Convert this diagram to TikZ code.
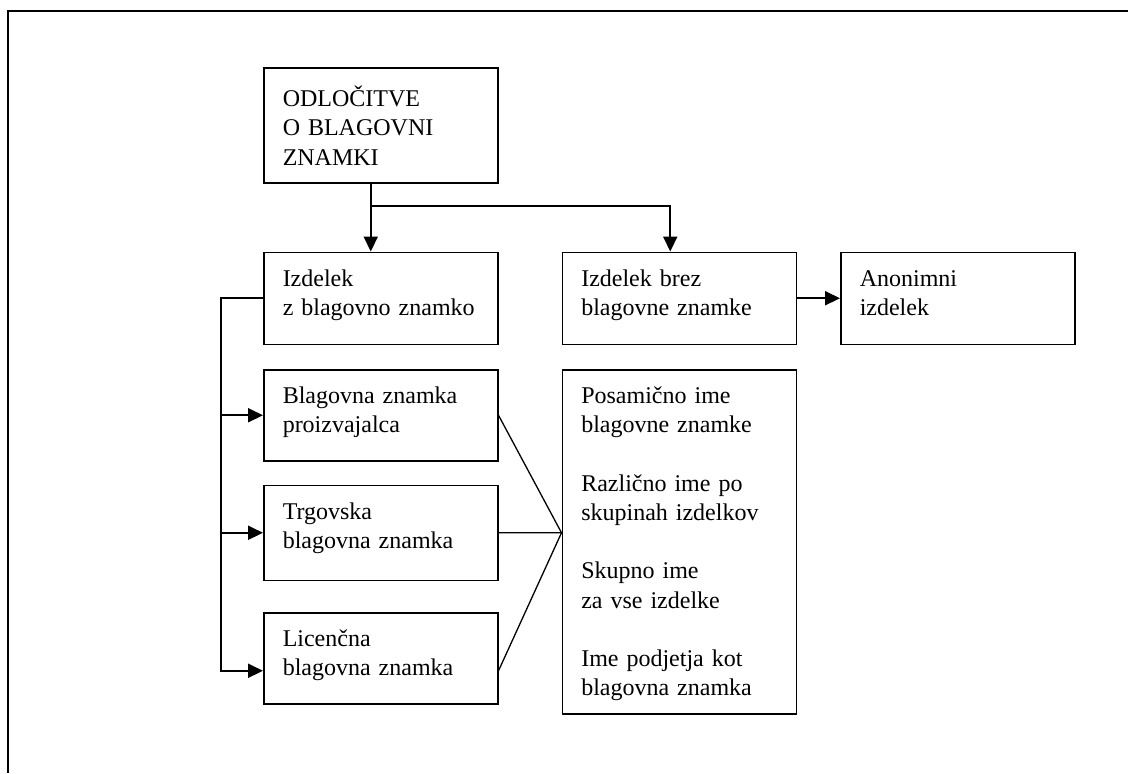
\documentclass[tikz,border=0pt]{standalone}
\usepackage{fontspec}
\setmainfont{Liberation Serif}
\usetikzlibrary{arrows.meta,positioning,calc}

\begin{document}
\begin{tikzpicture}[>={Triangle[length=7.5pt, width=7pt]}, node distance=12pt and 31.5pt]
\tikzset{
  bx/.style={draw, line width=0.75pt, inner xsep=9.5pt, inner ysep=0pt, text width=98pt, align=left, text height=17pt, text depth=29pt, font=\fontsize{12}{14.6}\selectfont},
  arr/.style={->, line width=1pt},
  fan/.style={line width=0.65pt}
}
\useasboundingbox (0,0) rectangle (564pt,-386.5pt);
\draw[line width=1.2pt] (4pt,-386.5pt) |- (564pt,-5.5pt);

\node[bx, anchor=north west, text height=19.5pt, text depth=38pt] (dec) at (131.5pt,-33.5pt) {ODLOČITVE\\O BLAGOVNI\\ZNAMKI};
\node[bx, below=34pt of dec] (branded) {Izdelek\\z blagovno znamko};
\node[bx, right=of branded] (nobrand) {Izdelek brez\\blagovne znamke};
\node[bx, right=21.5pt of nobrand] (anon) {Anonimni\\izdelek};
\node[bx, below=of branded, text depth=28.5pt] (proizv) {Blagovna znamka\\proizvajalca};
\node[bx, below=11.5pt of proizv, text depth=30.5pt] (trgov) {Trgovska\\blagovna znamka};
\node[bx, below=15.5pt of trgov, text depth=28.5pt] (licen) {Licenčna\\blagovna znamka};
\node[bx, right=of proizv.north east, anchor=north west, text depth=155pt] (names) {Posamično ime\\blagovne znamke\\[14.6pt]Različno ime po\\skupinah izdelkov\\[14.6pt]Skupno ime\\za vse izdelke\\[14.6pt]Ime podjetja kot\\blagovna znamka};

\draw[arr] ([xshift=-5pt]dec.south) -- ([xshift=-5pt]branded.north);
\draw[arr] ([xshift=-5pt]dec.south) ++(0,-11pt) -| ([xshift=-4.5pt]nobrand.north);
\draw[arr] (nobrand) -- (anon);

\draw[arr] (branded.west) -- ++(-21pt,0) coordinate (bus) |- ([yshift=-6.25pt]licen.west);
\draw[arr] (bus |- proizv.west) -- (proizv.west);
\draw[arr] (bus |- trgov.west) -- (trgov.west);

\coordinate (join) at (names.west |- trgov.east);
\draw[fan] (proizv.east) -- (join) -- (trgov.east);
\draw[fan] ([yshift=-6.25pt]licen.east) -- (join);
\end{tikzpicture}
\end{document}
